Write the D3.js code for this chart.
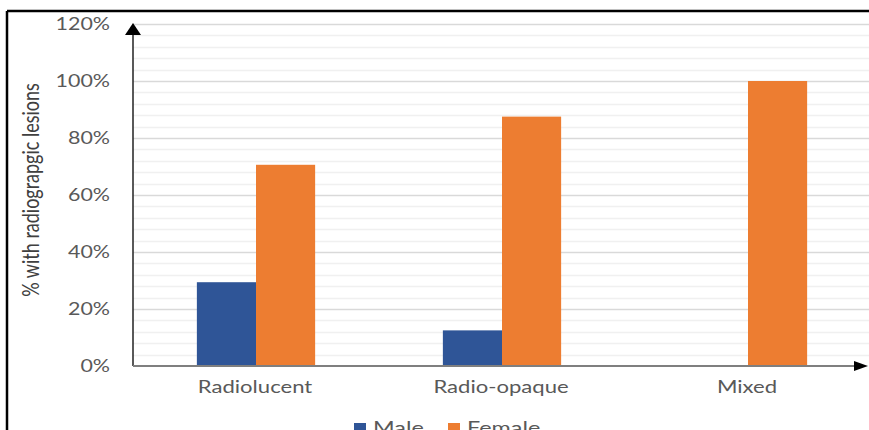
<!DOCTYPE html>
<html>
<head>
<meta charset="utf-8">
<script src="https://cdn.jsdelivr.net/npm/d3@7"></script>
<style>
  html, body { margin: 0; padding: 0; background: #fff; overflow: hidden; }
  svg { display: block; }
  text { font-family: Lato, "Open Sans", sans-serif; }
</style>
</head>
<body>
<svg id="chart" width="869" height="430"></svg>
<script>
// Lesion type categories and the share of each sex within them
const categories = ["Radiolucent", "Radio-opaque", "Mixed"];
const seriesNames = ["Male", "Female"];
const maleValues = [0.294, 0.125, 0];
const femaleValues = [0.706, 0.875, 1.0];
const yTicks = [0, 0.2, 0.4, 0.6, 0.8, 1.0, 1.2];
const yTitle = "% with radiograpgic lesions";

const colors = { Male: "#2F5597", Female: "#ED7D31" };
const stretch = 1.3; // horizontal stretch applied to text glyphs

const svg = d3.select("#chart");
const W = 869, H = 430;
const plotLeft = 133, plotRight = 871, plotTop = 24, plotBottom = 366;

const rows = categories.map((c, i) => ({ category: c, Male: maleValues[i], Female: femaleValues[i] }));

const x0 = d3.scaleBand().domain(categories).range([plotLeft, plotRight]).paddingInner(0).paddingOuter(0);
const x1 = d3.scaleBand().domain(seriesNames).range([0, x0.bandwidth()]).paddingInner(0).paddingOuter(1.08);
const y = d3.scaleLinear().domain([0, 1.2]).range([plotBottom, plotTop]);

// outer frame (top and left edges)
svg.append("line").attr("x1", 7).attr("x2", W).attr("y1", 11).attr("y2", 11)
  .attr("stroke", "#000").attr("stroke-width", 2.5);
svg.append("line").attr("x1", 7).attr("x2", 7).attr("y1", 11).attr("y2", H)
  .attr("stroke", "#000").attr("stroke-width", 2.5);

// minor gridlines every 4%
const minor = d3.range(0, 1.2001, 0.04).filter(v => Math.abs(Math.round(v / 0.2) * 0.2 - v) > 1e-6);
svg.append("g").selectAll("line").data(minor).join("line")
  .attr("x1", plotLeft).attr("x2", W)
  .attr("y1", d => Math.round(y(d)) + 0.5).attr("y2", d => Math.round(y(d)) + 0.5)
  .attr("stroke", "#f0f0f0").attr("stroke-width", 1.5);

// major gridlines every 20%
svg.append("g").selectAll("line").data(yTicks.filter(v => v > 0)).join("line")
  .attr("x1", plotLeft).attr("x2", W)
  .attr("y1", d => Math.round(y(d)) + 0.5).attr("y2", d => Math.round(y(d)) + 0.5)
  .attr("stroke", "#d9d9d9").attr("stroke-width", 1.5);

// bars
const groups = svg.append("g").selectAll("g").data(rows).join("g")
  .attr("transform", d => `translate(${x0(d.category)},0)`);
groups.selectAll("rect")
  .data(d => seriesNames.map(s => ({ key: s, value: d[s] })))
  .join("rect")
  .attr("x", d => x1(d.key))
  .attr("width", x1.bandwidth())
  .attr("y", d => y(d.value))
  .attr("height", d => y(0) - y(d.value))
  .attr("fill", d => colors[d.key]);

// y axis with arrow
svg.append("line").attr("x1", plotLeft).attr("x2", plotLeft).attr("y1", plotBottom).attr("y2", 33)
  .attr("stroke", "#222").attr("stroke-width", 1.5);
svg.append("path").attr("d", `M${plotLeft},23 L${plotLeft - 8},35 L${plotLeft + 8},35 Z`).attr("fill", "#000");

// x axis with arrow
svg.append("line").attr("x1", plotLeft).attr("x2", 856).attr("y1", plotBottom).attr("y2", plotBottom)
  .attr("stroke", "#7f7f7f").attr("stroke-width", 2);
svg.append("path").attr("d", `M868,${plotBottom} L854,${plotBottom - 5} L854,${plotBottom + 5} Z`).attr("fill", "#000");

// y tick labels
const fmt = d3.format(".0%");
svg.append("g").selectAll("text").data(yTicks).join("text")
  .attr("transform", d => `translate(110,${y(d)}) scale(${stretch},1)`)
  .attr("text-anchor", "end").attr("dy", "0.35em")
  .attr("font-size", 16.5).attr("fill", "#595959")
  .text(d => fmt(d));

// category labels
svg.append("g").selectAll("text").data(categories).join("text")
  .attr("transform", d => `translate(${x0(d) + x0.bandwidth() / 2 - 1},393) scale(${stretch},1)`)
  .attr("text-anchor", "middle")
  .attr("font-size", 17).attr("fill", "#595959")
  .text(d => d);

// y axis title
svg.append("text")
  .attr("transform", `translate(39,190) scale(${stretch},1) rotate(-90)`)
  .attr("text-anchor", "middle")
  .attr("font-size", 18).attr("fill", "#404040")
  .text(yTitle);

// legend
const legendX = [354, 448];
const legend = svg.append("g").selectAll("g").data(seriesNames).join("g")
  .attr("transform", (d, i) => `translate(${legendX[i]},0)`);
legend.append("rect").attr("x", 0).attr("y", 423).attr("width", 12).attr("height", 10)
  .attr("fill", d => colors[d]);
legend.append("text")
  .attr("transform", `translate(19,434) scale(${stretch},1)`)
  .attr("font-size", 18).attr("fill", "#595959")
  .text(d => d);
</script>
</body>
</html>
